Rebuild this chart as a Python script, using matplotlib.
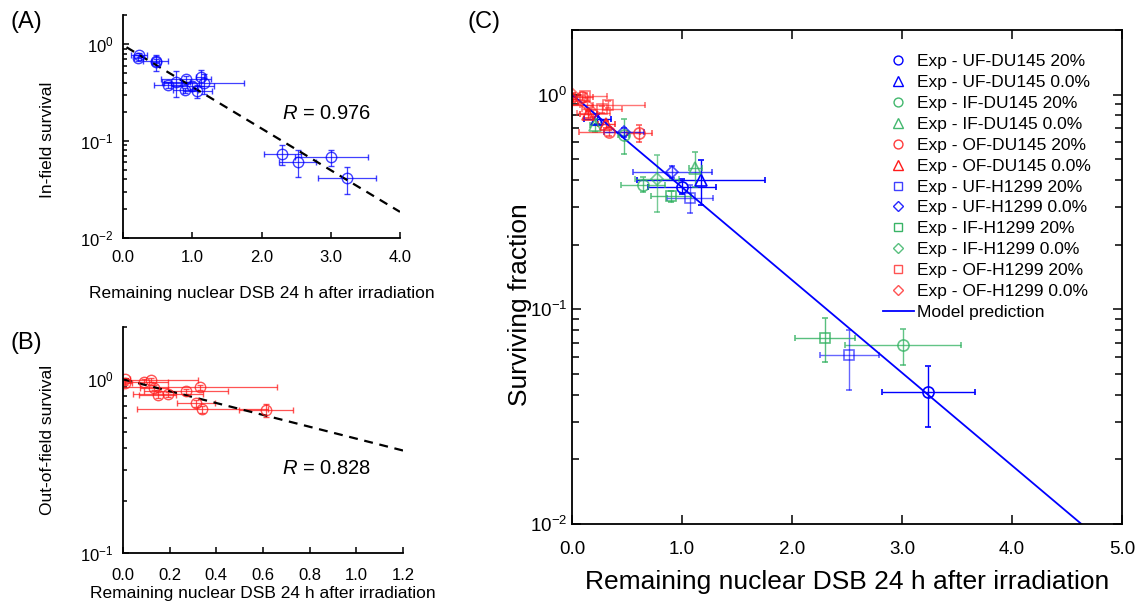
import numpy as np
import matplotlib
matplotlib.use('Agg')
import matplotlib.pyplot as plt
from matplotlib.lines import Line2D
from matplotlib.ticker import LogLocator, MultipleLocator, FormatStrFormatter, NullFormatter

plt.rcParams['font.family'] = ['Liberation Sans', 'DejaVu Sans']
plt.rcParams['mathtext.fontset'] = 'custom'
plt.rcParams['mathtext.rm'] = 'Liberation Sans'
plt.rcParams['mathtext.it'] = 'Liberation Sans:italic'
plt.rcParams['axes.unicode_minus'] = False

BLUE = '#0000FF'
GREEN = '#2EB05E'
RED = '#FF1A1A'

# ---------------- data (panel C series) ----------------
series_labels = ['Exp - UF-DU145 20%', 'Exp - UF-DU145 0.0%',
                 'Exp - IF-DU145 20%', 'Exp - IF-DU145 0.0%',
                 'Exp - OF-DU145 20%', 'Exp - OF-DU145 0.0%',
                 'Exp - UF-H1299 20%', 'Exp - UF-H1299 0.0%',
                 'Exp - IF-H1299 20%', 'Exp - IF-H1299 0.0%',
                 'Exp - OF-H1299 20%', 'Exp - OF-H1299 0.0%']
series_field = ['UF', 'UF', 'IF', 'IF', 'OF', 'OF', 'UF', 'UF', 'IF', 'IF', 'OF', 'OF']

uf_du145_20_x = [1.00, 3.24]
uf_du145_20_y = [0.373, 0.0414]
uf_du145_20_xerr = [0.31, 0.42]
uf_du145_20_yerr = [0.03, 0.013]

uf_du145_00_x = [0.23, 1.17]
uf_du145_00_y = [0.77, 0.40]
uf_du145_00_xerr = [0.12, 0.58]
uf_du145_00_yerr = [0.04, 0.095]

if_du145_20_x = [0.47, 0.645, 3.01]
if_du145_20_y = [0.65, 0.381, 0.068]
if_du145_20_xerr = [0.05, 0.20, 0.53]
if_du145_20_yerr = [0.12, 0.03, 0.013]

if_du145_00_x = [0.21, 1.12]
if_du145_00_y = [0.72, 0.455]
if_du145_00_xerr = [0.05, 0.06]
if_du145_00_yerr = [0.05, 0.085]

of_du145_20_x = [0.091, 0.34, 0.613]
of_du145_20_y = [0.97, 0.673, 0.663]
of_du145_20_xerr = [0.10, 0.28, 0.115]
of_du145_20_yerr = [0.03, 0.03, 0.06]

of_du145_00_x = [0.01, 0.149, 0.312]
of_du145_00_y = [0.956, 0.81, 0.726]
of_du145_00_xerr = [0.03, 0.08, 0.08]
of_du145_00_yerr = [0.03, 0.03, 0.03]

uf_h1299_20_x = [1.07, 2.52]
uf_h1299_20_y = [0.331, 0.061]
uf_h1299_20_xerr = [0.21, 0.27]
uf_h1299_20_yerr = [0.05, 0.019]

uf_h1299_00_x = [0.47, 0.91]
uf_h1299_00_y = [0.667, 0.437]
uf_h1299_00_xerr = [0.18, 0.36]
uf_h1299_00_yerr = [0.03, 0.03]

if_h1299_20_x = [0.90, 2.30]
if_h1299_20_y = [0.336, 0.0738]
if_h1299_20_xerr = [0.18, 0.27]
if_h1299_20_yerr = [0.02, 0.017]

if_h1299_00_x = [0.77]
if_h1299_00_y = [0.405]
if_h1299_00_xerr = [0.20]
if_h1299_00_yerr = [0.12]

of_h1299_20_x = [0.12, 0.271, 0.331]
of_h1299_20_y = [0.99, 0.855, 0.899]
of_h1299_20_xerr = [0.20, 0.18, 0.33]
of_h1299_20_yerr = [0.03, 0.03, 0.03]

of_h1299_00_x = [0.01, 0.134, 0.191]
of_h1299_00_y = [1.0, 0.895, 0.818]
of_h1299_00_xerr = [0.02, 0.06, 0.15]
of_h1299_00_yerr = [0.02, 0.03, 0.03]

series_x = [uf_du145_20_x, uf_du145_00_x, if_du145_20_x, if_du145_00_x,
            of_du145_20_x, of_du145_00_x, uf_h1299_20_x, uf_h1299_00_x,
            if_h1299_20_x, if_h1299_00_x, of_h1299_20_x, of_h1299_00_x]
series_y = [uf_du145_20_y, uf_du145_00_y, if_du145_20_y, if_du145_00_y,
            of_du145_20_y, of_du145_00_y, uf_h1299_20_y, uf_h1299_00_y,
            if_h1299_20_y, if_h1299_00_y, of_h1299_20_y, of_h1299_00_y]
series_xerr = [uf_du145_20_xerr, uf_du145_00_xerr, if_du145_20_xerr, if_du145_00_xerr,
               of_du145_20_xerr, of_du145_00_xerr, uf_h1299_20_xerr, uf_h1299_00_xerr,
               if_h1299_20_xerr, if_h1299_00_xerr, of_h1299_20_xerr, of_h1299_00_xerr]
series_yerr = [uf_du145_20_yerr, uf_du145_00_yerr, if_du145_20_yerr, if_du145_00_yerr,
               of_du145_20_yerr, of_du145_00_yerr, uf_h1299_20_yerr, uf_h1299_00_yerr,
               if_h1299_20_yerr, if_h1299_00_yerr, of_h1299_20_yerr, of_h1299_00_yerr]

# model prediction and fitted lines (end points)
model_x = [0.0, 4.63]
model_y = [1.0, 0.01]
fitA_x = [0.05, 4.0]
fitA_y = [0.93, 0.0185]
fitB_x = [0.0, 1.2]
fitB_y = [1.0, 0.389]
R_A = '0.976'
R_B = '0.828'

xlabel_text = 'Remaining nuclear DSB 24 h after irradiation'

# ---------------- style per series ----------------
series_colors = [BLUE, BLUE, GREEN, GREEN, RED, RED, BLUE, BLUE, GREEN, GREEN, RED, RED]
series_markers = ['o', '^', 'o', '^', 'o', '^', 's', 'D', 's', 'D', 's', 'D']
series_ms = [8, 9, 8, 9, 8, 9, 7.5, 6.5, 7.5, 6.5, 7.5, 6.5]
series_alpha = [1.0, 1.0, 0.75, 0.75, 0.7, 0.85, 0.6, 0.7, 0.8, 0.65, 0.6, 0.6]

fig = plt.figure(figsize=(11.35, 6.04), dpi=100)

axA = fig.add_axes([0.1084, 0.6064, 0.2440, 0.3687])
axB = fig.add_axes([0.1084, 0.0844, 0.2467, 0.3742])
axC = fig.add_axes([0.5040, 0.1325, 0.4846, 0.8179])


def style_small(ax):
    ax.spines['top'].set_visible(False)
    ax.spines['right'].set_visible(False)
    for s in ['left', 'bottom']:
        ax.spines[s].set_linewidth(1.3)
    ax.tick_params(which='both', direction='in', width=1.1, labelsize=12)
    ax.tick_params(which='major', length=4.5)
    ax.tick_params(which='minor', length=3)
    ax.tick_params(axis='x', pad=9)
    ax.tick_params(axis='y', pad=7)


# ---------------- Panel A ----------------
for i in range(12):
    if series_field[i] in ('UF', 'IF'):
        axA.errorbar(series_x[i], series_y[i], xerr=series_xerr[i], yerr=series_yerr[i],
                     fmt='o', ms=7.5, mfc='none', mec=BLUE, mew=1.0, ecolor=BLUE,
                     elinewidth=0.9, capsize=2.5, capthick=0.9, alpha=0.75)
axA.plot(fitA_x, fitA_y, color='black', lw=1.6, ls=(0, (4, 3)))
axA.set_yscale('log')
axA.set_xlim(0, 4.0)
axA.set_ylim(0.01, 2.0)
axA.xaxis.set_major_locator(MultipleLocator(1.0))
axA.xaxis.set_major_formatter(FormatStrFormatter('%.1f'))
axA.yaxis.set_major_locator(LogLocator(base=10, numticks=10))
axA.yaxis.set_minor_locator(LogLocator(base=10, subs=np.arange(2, 10), numticks=10))
axA.yaxis.set_minor_formatter(NullFormatter())
style_small(axA)
axA.set_xlabel(xlabel_text, fontsize=12.5, labelpad=15)
axA.set_ylabel('In-field survival', fontsize=12.5)
axA.yaxis.set_label_coords(-0.245, 0.44)
axA.text(0.574, 0.56, '$R$ = ' + R_A, transform=axA.transAxes, fontsize=14.5,
         ha='left', va='center')

# ---------------- Panel B ----------------
for i in range(12):
    if series_field[i] == 'OF':
        axB.errorbar(series_x[i], series_y[i], xerr=series_xerr[i], yerr=series_yerr[i],
                     fmt='o', ms=7.5, mfc='none', mec=RED, mew=1.0, ecolor=RED,
                     elinewidth=0.9, capsize=2.5, capthick=0.9, alpha=0.75)
axB.plot(fitB_x, fitB_y, color='black', lw=1.6, ls=(0, (4, 3)))
axB.set_yscale('log')
axB.set_xlim(0, 1.2)
axB.set_ylim(0.1, 2.0)
axB.xaxis.set_major_locator(MultipleLocator(0.2))
axB.xaxis.set_major_formatter(FormatStrFormatter('%.1f'))
axB.yaxis.set_major_locator(LogLocator(base=10, numticks=10))
axB.yaxis.set_minor_locator(LogLocator(base=10, subs=np.arange(2, 10), numticks=10))
axB.yaxis.set_minor_formatter(NullFormatter())
style_small(axB)
axB.tick_params(axis='x', pad=11)
axB.set_xlabel(xlabel_text, fontsize=12.5, labelpad=2)
axB.set_ylabel('Out-of-field survival', fontsize=12.5)
axB.yaxis.set_label_coords(-0.243, 0.50)
axB.text(0.568, 0.376, '$R$ = ' + R_B, transform=axB.transAxes, fontsize=14.5,
         ha='left', va='center')

# ---------------- Panel C ----------------
handles = []
for i in range(12):
    axC.errorbar(series_x[i], series_y[i], xerr=series_xerr[i], yerr=series_yerr[i],
                 fmt=series_markers[i], ms=series_ms[i], mfc='none', mec=series_colors[i],
                 mew=1.2, ecolor=series_colors[i], elinewidth=1.0, capsize=2.5,
                 capthick=1.0, alpha=series_alpha[i])
    handles.append(Line2D([], [], ls='none', marker=series_markers[i],
                          ms=series_ms[i] * 0.8, mfc='none', mec=series_colors[i],
                          mew=1.0, alpha=min(1.0, series_alpha[i] + 0.15),
                          label=series_labels[i]))
mline, = axC.plot(model_x, model_y, color=BLUE, lw=1.3, label='Model prediction')
handles.append(mline)

axC.set_yscale('log')
axC.set_xlim(0, 5.0)
axC.set_ylim(0.01, 2.0)
axC.xaxis.set_major_locator(MultipleLocator(1.0))
axC.xaxis.set_major_formatter(FormatStrFormatter('%.1f'))
axC.yaxis.set_major_locator(LogLocator(base=10, numticks=10))
axC.yaxis.set_minor_locator(LogLocator(base=10, subs=np.arange(2, 10), numticks=10))
axC.yaxis.set_minor_formatter(NullFormatter())
for s in axC.spines.values():
    s.set_linewidth(1.3)
axC.tick_params(which='both', direction='in', top=True, right=True, width=1.1,
                labelsize=13.5)
axC.tick_params(which='major', length=6.5)
axC.tick_params(which='minor', length=5)
axC.tick_params(axis='x', pad=12)
axC.set_xlabel(xlabel_text, fontsize=19, labelpad=9)
axC.set_ylabel('Surviving fraction', fontsize=19)
axC.yaxis.set_label_coords(-0.073, 0.443)

axC.legend(handles=handles, loc='upper left', bbox_to_anchor=(0.565, 0.951),
           frameon=False, fontsize=12.5, handlelength=1.8, handletextpad=0.15,
           labelspacing=0.33, borderpad=0, borderaxespad=0, numpoints=1)

# panel labels
fig.text(0.023, 0.964, '(A)', fontsize=17, ha='center', va='center')
fig.text(0.023, 0.432, '(B)', fontsize=17, ha='center', va='center')
fig.text(0.4264, 0.964, '(C)', fontsize=17, ha='center', va='center')

fig.savefig('out.png', dpi=100)
